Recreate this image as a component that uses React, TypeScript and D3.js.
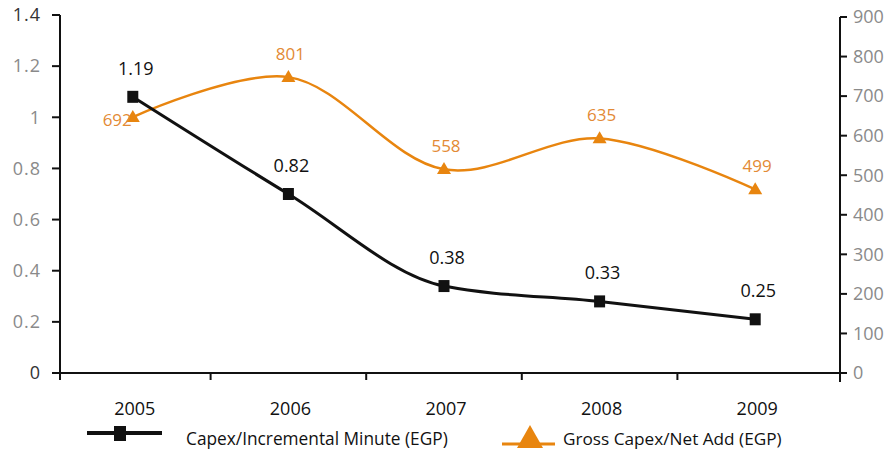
import React from "react";
import * as d3 from "d3";

const years = ["2005", "2006", "2007", "2008", "2009"];
// values printed as data labels
const capexMinuteLabels = [1.19, 0.82, 0.38, 0.33, 0.25];
const grossCapexLabels = [692, 801, 558, 635, 499];
// values as plotted in the picture
const capexMinutePlotted = [1.08, 0.7, 0.34, 0.28, 0.21];
const grossCapexPlotted = [647, 748, 515, 593, 464];

const leftTicks = [0, 0.2, 0.4, 0.6, 0.8, 1.0, 1.2, 1.4];
const leftTickLabels = ["0", "0.2", "0.4", "0.6", "0.8", "1", "1.2", "1.4"];
const rightTicks = [0, 100, 200, 300, 400, 500, 600, 700, 800, 900];

const seriesNames = ["Capex/Incremental Minute (EGP)", "Gross Capex/Net Add (EGP)"];

const W = 891;
const H = 454;
const AX_L = 60;
const AX_R = 840;
const Y0 = 373;

const BLACK = "#111111";
const ORANGE = "#E8850F";
const ORANGE_TXT = "#E38A35";
const FONT = "'Open Sans', 'Noto Sans', sans-serif";

export default function App() {
  const x = d3.scaleBand<string>().domain(years).range([55, 833]);
  const cx = (y: string) => (x(y) as number) + x.bandwidth() / 2;
  const yL = d3.scaleLinear().domain([0, 1.4]).range([Y0, 15]);
  const yR = d3.scaleLinear().domain([0, 900]).range([Y0, 17]);

  const blackLine = d3
    .line<number>()
    .x((_, i) => cx(years[i]))
    .y((d) => yL(d))
    .curve(d3.curveMonotoneX);
  const orangeLine = d3
    .line<number>()
    .x((_, i) => cx(years[i]))
    .y((d) => yR(d))
    .curve(d3.curveCatmullRom.alpha(0.5));

  const bandEdges = years.slice(1).map((y) => x(y) as number);

  const tri = (px: number, py: number, w: number, h: number) =>
    `M${px},${py - h * 0.6}L${px + w / 2},${py + h * 0.4}L${px - w / 2},${py + h * 0.4}Z`;

  return (
    <svg
      width={W}
      height={H}
      style={{ position: "absolute", left: 0, top: 0, background: "#fff" }}
      fontFamily={FONT}
    >
      {/* axes */}
      <line x1={AX_L} x2={AX_L} y1={15} y2={380} stroke={BLACK} strokeWidth={2} />
      <line x1={AX_R} x2={AX_R} y1={17} y2={382} stroke={BLACK} strokeWidth={2} />
      <line x1={AX_L - 8} x2={AX_R} y1={Y0} y2={Y0} stroke={BLACK} strokeWidth={2} />

      {leftTicks.map((t, i) => (
        <g key={"l" + i}>
          <line x1={AX_L - 8} x2={AX_L} y1={yL(t)} y2={yL(t)} stroke={BLACK} strokeWidth={2} />
          <text
            x={41}
            y={yL(t)}
            dy="0.35em"
            textAnchor="end"
            fontSize={18}
            letterSpacing={1}
            fill={i === 0 || i === leftTicks.length - 1 ? "#333" : "#8a8a8a"}
          >
            {leftTickLabels[i]}
          </text>
        </g>
      ))}

      {rightTicks.map((t, i) => (
        <g key={"r" + i}>
          <line x1={AX_R} x2={AX_R + 7} y1={yR(t)} y2={yR(t)} stroke={BLACK} strokeWidth={2} />
          <text
            x={853}
            y={yR(t)}
            dy="0.35em"
            textAnchor="start"
            fontSize={18}
            fill="#8a8a8a"
          >
            {t}
          </text>
        </g>
      ))}

      {bandEdges.map((e, i) => (
        <line key={"b" + i} x1={e} x2={e} y1={Y0} y2={Y0 + 7} stroke={BLACK} strokeWidth={2} />
      ))}

      {years.map((y) => (
        <text key={y} x={cx(y) + 2} y={415} textAnchor="middle" fontSize={18} fill="#111">
          {y}
        </text>
      ))}

      {/* orange series */}
      <path d={orangeLine(grossCapexPlotted) || ""} fill="none" stroke={ORANGE} strokeWidth={2.5} />
      {grossCapexPlotted.map((v, i) => (
        <path key={"ot" + i} d={tri(cx(years[i]), yR(v), 14, 12)} fill={ORANGE} />
      ))}
      {grossCapexLabels.map((v, i) => {
        const px = cx(years[i]);
        const py = yR(grossCapexPlotted[i]);
        const first = i === 0;
        return (
          <text
            key={"ol" + i}
            x={first ? px - 1 : px + 2}
            y={first ? py + 3 : py - 17}
            textAnchor={first ? "end" : "middle"}
            dy={first ? "0.35em" : 0}
            fontSize={17}
            fill={ORANGE_TXT}
          >
            {v}
          </text>
        );
      })}

      {/* black series */}
      <path d={blackLine(capexMinutePlotted) || ""} fill="none" stroke={BLACK} strokeWidth={3} />
      {capexMinutePlotted.map((v, i) => (
        <rect key={"bs" + i} x={cx(years[i]) - 5.5} y={yL(v) - 6} width={11} height={12} fill={BLACK} />
      ))}
      {capexMinuteLabels.map((v, i) => (
        <text
          key={"bl" + i}
          x={cx(years[i]) + 3}
          y={yL(capexMinutePlotted[i]) - 22}
          textAnchor="middle"
          fontSize={18}
          fill="#111"
        >
          {v.toFixed(2)}
        </text>
      ))}

      {/* legend */}
      <line x1={87} x2={162} y1={433} y2={433} stroke={BLACK} strokeWidth={4} />
      <rect x={114} y={426} width={12} height={15} fill={BLACK} />
      <text x={186} y={439} dy="0.35em" fontSize={17.3} fill="#111">
        {seriesNames[0]}
      </text>

      <line x1={502} x2={555} y1={444} y2={444} stroke={ORANGE} strokeWidth={3} />
      <path d="M530,425L543,448L517,448Z" fill={ORANGE} />
      <text x={563} y={439} dy="0.35em" fontSize={17.2} fill="#111">
        {seriesNames[1]}
      </text>
    </svg>
  );
}
